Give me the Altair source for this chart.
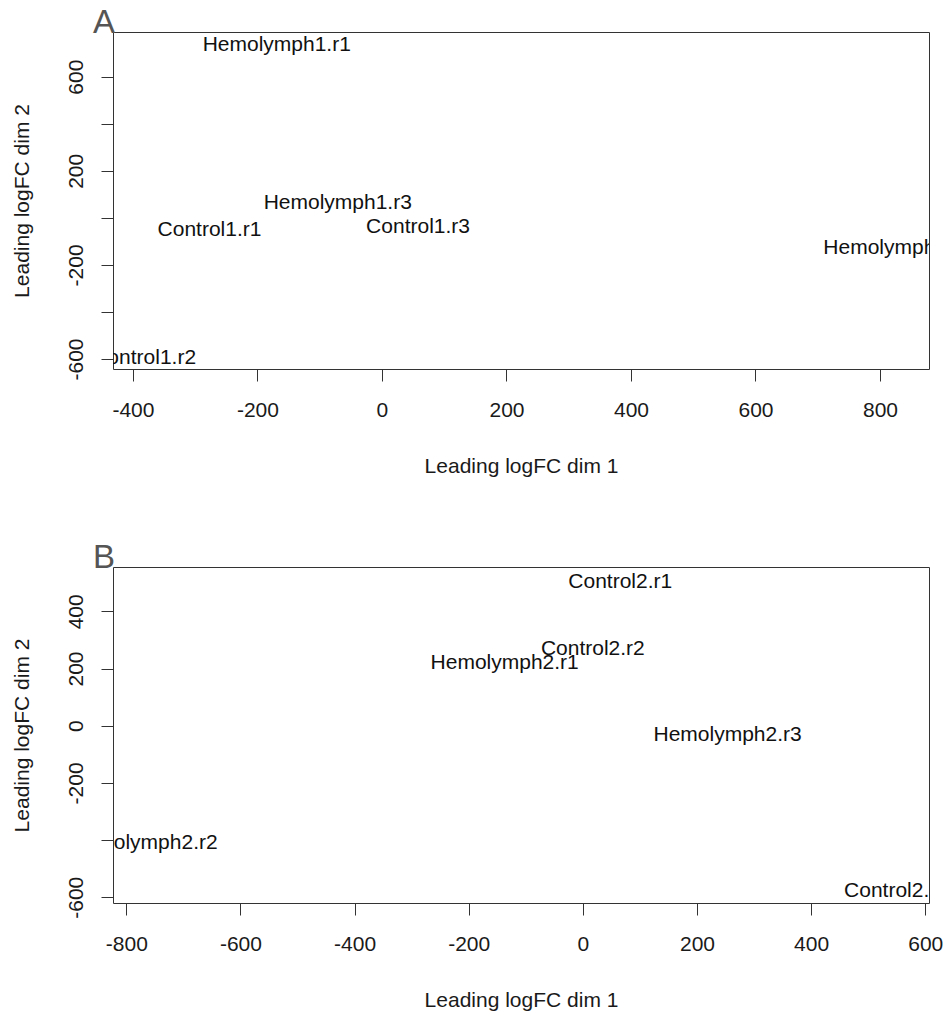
import altair as alt
import pandas as pd

# Panel A
samples_a = ["Hemolymph1.r1", "Hemolymph1.r2", "Hemolymph1.r3", "Control1.r1", "Control1.r2", "Control1.r3"]
dim1_a = [-169, 828, -71, -277, -382, 58]
dim2_a = [736, -128, 63, -50, -596, -39]
xticks_a = [-400, -200, 0, 200, 400, 600, 800]
yticks_a = [600, 400, 200, 0, -200, -400, -600]
xdom_a = [-432, 878.7]
ydom_a = [-642.6, 790]

# Panel B
samples_b = ["Control2.r1", "Control2.r2", "Hemolymph2.r1", "Hemolymph2.r3", "Hemolymph2.r2", "Control2.r3"]
dim1_b = [65.6, 17.5, -137, 253.7, -769.8, 548.8]
dim2_b = [501, 268, 218, -31, -410, -579]
xticks_b = [-800, -600, -400, -200, 0, 200, 400, 600]
yticks_b = [400, 200, 0, -200, -400, -600]
xdom_b = [-823.3, 606.6]
ydom_b = [-620, 555]

FONT = "Liberation Sans"


def panel(samples, d1, d2, xticks, yticks, xdom, ydom, ylabel_expr, letter, h):
    df = pd.DataFrame({"sample": samples, "dim1": d1, "dim2": d2})
    return alt.Chart(df, title=alt.TitleParams(
        letter, anchor="start", frame="group", dx=-20, offset=-34,
        fontSize=33, font=FONT, fontWeight="normal", color="#555555",
        baseline="alphabetic",
    )).mark_text(
        font=FONT, fontSize=21, color="#111111", clip=True,
        align="center", baseline="middle",
    ).encode(
        x=alt.X("dim1:Q",
                scale=alt.Scale(domain=xdom, nice=False, zero=False),
                axis=alt.Axis(values=xticks, labelExpr="toString(datum.value)",
                              title="Leading logFC dim 1", grid=False,
                              domain=False, tickColor="#333333", tickSize=12, tickWidth=1,
                              labelFont=FONT, labelFontSize=21, labelColor="#1a1a1a",
                              labelPadding=18, labelFlush=False, labelOverlap=False,
                              titleFont=FONT, titleFontSize=21, titleFontWeight="normal",
                              titleColor="#1a1a1a", titleY=103, titleBaseline="alphabetic")),
        y=alt.Y("dim2:Q",
                scale=alt.Scale(domain=ydom, nice=False, zero=False),
                axis=alt.Axis(values=yticks, labelExpr=ylabel_expr, title="Leading logFC dim 2",
                              grid=False, domain=False, tickColor="#333333", tickSize=12,
                              tickWidth=1, labelFont=FONT, labelFontSize=21,
                              labelColor="#1a1a1a", labelAngle=270, labelAlign="center",
                              labelBaseline="alphabetic", labelPadding=19, labelFlush=False,
                              labelOverlap=False, titleFont=FONT, titleFontSize=21,
                              titleFontWeight="normal", titleColor="#1a1a1a", titleAngle=270,
                              titleX=-85, titleBaseline="alphabetic")),
        text="sample:N",
    ).properties(width=816, height=h)


chart_a = panel(samples_a, dim1_a, dim2_a, xticks_a, yticks_a, xdom_a, ydom_a,
                "(datum.value == 400 || datum.value == 0 || datum.value == -400) ? '' : toString(datum.value)",
                "A", 337)
chart_b = panel(samples_b, dim1_b, dim2_b, xticks_b, yticks_b, xdom_b, ydom_b,
                "datum.value == -400 ? '' : toString(datum.value)", "B", 336)

chart = alt.vconcat(chart_a, chart_b, spacing=64).properties(
    padding={"left": 10, "top": 6, "right": 0, "bottom": 0}
).configure(background="white").configure_view(stroke="#333333", strokeWidth=1)

chart.save("out.html", embed_options={"renderer": "svg", "actions": False})
